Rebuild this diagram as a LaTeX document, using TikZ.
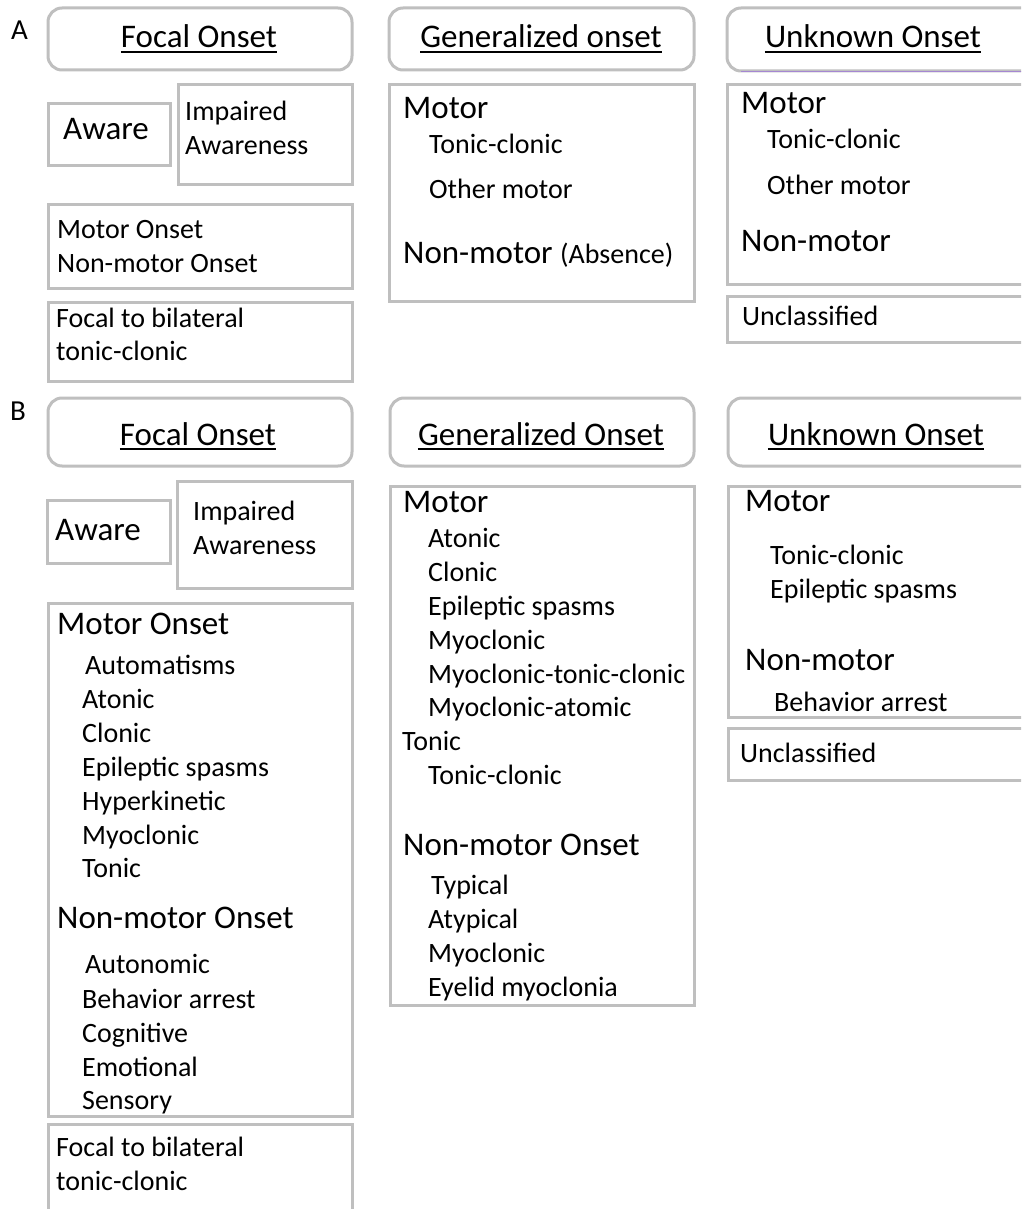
\documentclass[tikz,border=0pt]{standalone}
\usepackage{fontspec}
\setmainfont{Carlito}
\usetikzlibrary{positioning}
\definecolor{boxgray}{RGB}{191,191,191}
\definecolor{edgepurple}{RGB}{165,135,210}
\newcommand{\itemfont}{\fontsize{28pt}{33pt}\selectfont}
\newcommand{\headfont}{\fontsize{33pt}{39pt}\selectfont}
\tikzset{
    % Plain category box
    plainbox/.style={
        rectangle, draw=boxgray, line width=3pt, fill=white,
        anchor=north west, inner sep=0pt, outer sep=0pt
    },
    % Rounded title box
    titlebox/.style={
        plainbox, rounded corners=14pt
    },
    % Title text (underlined afterwards)
    titletext/.style={
        anchor=base, inner sep=0pt, font=\headfont
    },
    % Large heading inside a box
    headtext/.style={
        anchor=base west, inner sep=0pt, font=\headfont
    },
    % Small list entry
    itemtext/.style={
        anchor=base west, inner sep=0pt, font=\itemfont
    },
    % Panel letter
    paneltag/.style={
        anchor=base west, inner sep=0pt, font=\fontsize{29pt}{33pt}\selectfont
    },
    % Underline of a title
    underline/.style={
        draw=black, line width=2pt
    }
}

\begin{document}
\begin{tikzpicture}[x=1pt, y=-1pt]
\clip (0,0) rectangle (1021,1209);

% ---------------- Panel A ----------------
\node[paneltag] (tagA) at (11,40) {A};

% title boxes
\node[titlebox, minimum width=304pt, minimum height=62pt] (aFocalBox) at (48,8) {};
\node[titlebox, minimum width=305pt, minimum height=62pt] (aGenBox) at (389,8) {};
\node[titlebox, minimum width=320pt, minimum height=63pt] (aUnkBox) at (727,8) {};
\draw[edgepurple, line width=1.5pt] ([xshift=14pt,yshift=-0.5pt]aUnkBox.south west) -- ([yshift=-0.5pt]aUnkBox.south east);

\node[titletext] (aFocalT) at (199,48) {Focal Onset};
\node[titletext] (aGenT) at (541,48) {Generalized onset};
\node[titletext] (aUnkT) at (873,48) {Unknown Onset};
\foreach \t in {aFocalT,aGenT,aUnkT}
    \draw[underline] ([yshift=-4pt]\t.base west) -- ([yshift=-4pt]\t.base east);

% focal column
\node[plainbox, minimum width=122pt, minimum height=62pt] (aAwareBox) at (48,104) {};
\node[plainbox, minimum width=174pt, minimum height=100pt] (aImpBox) at (178,85) {};
\node[plainbox, minimum width=304pt, minimum height=84pt] (aOnsetBox) at (48,204) {};
\node[plainbox, minimum width=304pt, minimum height=79pt] (aBilatBox) at (48,302) {};

\node[headtext] (aAware) at (63,140) {Aware};
\node[itemtext] (aImp1) at (185,121) {Impaired};
\node[itemtext] (aImp2) at (185,155) {Awareness};
\node[itemtext] (aMotor) at (57,238) {Motor Onset};
\node[itemtext] (aNonMotor) at (57,272) {Non-motor Onset};
\node[itemtext] (aBilat1) at (56,327) {Focal to bilateral};
\node[itemtext] (aBilat2) at (56,360) {tonic-clonic};

% generalized column
\node[plainbox, minimum width=305pt, minimum height=216pt] (aGenList) at (389,85) {};
\node[headtext] (aGenMotor) at (403,119) {Motor};
\node[itemtext] (aGenTC) at (429,154) {Tonic-clonic};
\node[itemtext] (aGenOther) at (429,199) {Other motor};
\node[headtext] (aGenNon) at (403,263) {Non-motor};
\node[itemtext, right=7pt of aGenNon.base east, anchor=base west] (aGenAbs) {(Absence)};

% unknown column
\node[plainbox, minimum width=320pt, minimum height=199pt] (aUnkList) at (727,85) {};
\node[headtext] (aUnkMotor) at (741,114) {Motor};
\node[itemtext] (aUnkTC) at (767,149) {Tonic-clonic};
\node[itemtext] (aUnkOther) at (767,194) {Other motor};
\node[headtext] (aUnkNon) at (741,251) {Non-motor};
\node[plainbox, minimum width=320pt, minimum height=46pt] (aUnclBox) at (727,296) {};
\node[itemtext] (aUncl) at (742,325) {Unclassified};

% ---------------- Panel B ----------------
\node[paneltag] (tagB) at (10,420) {B};

% title boxes
\node[titlebox, minimum width=304pt, minimum height=68pt] (bFocalBox) at (48,398) {};
\node[titlebox, minimum width=304pt, minimum height=68pt] (bGenBox) at (390,398) {};
\node[titlebox, minimum width=320pt, minimum height=68pt] (bUnkBox) at (728,398) {};

\node[titletext] (bFocalT) at (198,445) {Focal Onset};
\node[titletext] (bGenT) at (541,445) {Generalized Onset};
\node[titletext] (bUnkT) at (876,445) {Unknown Onset};
\foreach \t in {bFocalT,bGenT,bUnkT}
    \draw[underline] ([yshift=-4pt]\t.base west) -- ([yshift=-4pt]\t.base east);

% focal column
\node[plainbox, minimum width=123pt, minimum height=63pt] (bAwareBox) at (47,500) {};
\node[plainbox, minimum width=175pt, minimum height=107pt] (bImpBox) at (177,481) {};
\node[plainbox, minimum width=304pt, minimum height=513pt] (bOnsetBox) at (48,603) {};
\node[plainbox, minimum width=304pt, minimum height=110pt] (bBilatBox) at (48,1124) {};

\node[headtext] (bAware) at (55,540) {Aware};
\node[itemtext] (bImp1) at (193,520) {Impaired};
\node[itemtext] (bImp2) at (193,554) {Awareness};

\node[headtext] (bMotor) at (57,634) {Motor Onset};
\foreach \txt/\xx/\yy [count=\i] in {Automatisms/85/674, Atonic/82/708, Clonic/82/742,
        Epileptic spasms/82/776, Hyperkinetic/82/810, Myoclonic/82/844, Tonic/82/877}
    \node[itemtext] (bMotor-\i) at (\xx,\yy) {\txt};
\node[headtext] (bNonMotor) at (57,928) {Non-motor Onset};
\foreach \txt/\xx/\yy [count=\i] in {Autonomic/85/973, Behavior arrest/82/1008,
        Cognitive/82/1042, Emotional/82/1076, Sensory/82/1109}
    \node[itemtext] (bNonMotor-\i) at (\xx,\yy) {\txt};

\node[itemtext] (bBilat1) at (56,1156) {Focal to bilateral};
\node[itemtext] (bBilat2) at (56,1190) {tonic-clonic};

% generalized column
\node[plainbox, minimum width=304pt, minimum height=519pt] (bGenList) at (390,486) {};
\node[headtext] (bGenMotor) at (403,512) {Motor};
\foreach \txt/\yy [count=\i] in {Atonic/547, Clonic/581, Epileptic spasms/615,
        Myoclonic/649, Myoclonic-tonic-clonic/683, Myoclonic-atomic/716}
    \node[itemtext] (bGenMotor-\i) at (428,\yy) {\txt};
\node[itemtext] (bGenTonic) at (402,750) {Tonic};
\node[itemtext] (bGenTC) at (428,784) {Tonic-clonic};
\node[headtext] (bGenNon) at (403,855) {Non-motor Onset};
\foreach \txt/\xx/\yy [count=\i] in {Typical/431/894, Atypical/428/928,
        Myoclonic/428/962, Eyelid myoclonia/428/996}
    \node[itemtext] (bGenNon-\i) at (\xx,\yy) {\txt};

% unknown column
\node[plainbox, minimum width=320pt, minimum height=231pt] (bUnkList) at (728,486) {};
\node[headtext] (bUnkMotor) at (745,511) {Motor};
\node[itemtext] (bUnkTC) at (770,564) {Tonic-clonic};
\node[itemtext] (bUnkSpasm) at (770,598) {Epileptic spasms};
\node[headtext] (bUnkNon) at (745,670) {Non-motor};
\node[itemtext] (bUnkArrest) at (774,711) {Behavior arrest};
\node[plainbox, minimum width=320pt, minimum height=52pt] (bUnclBox) at (728,728) {};
\node[itemtext] (bUncl) at (740,762) {Unclassified};

\end{tikzpicture}
\end{document}
